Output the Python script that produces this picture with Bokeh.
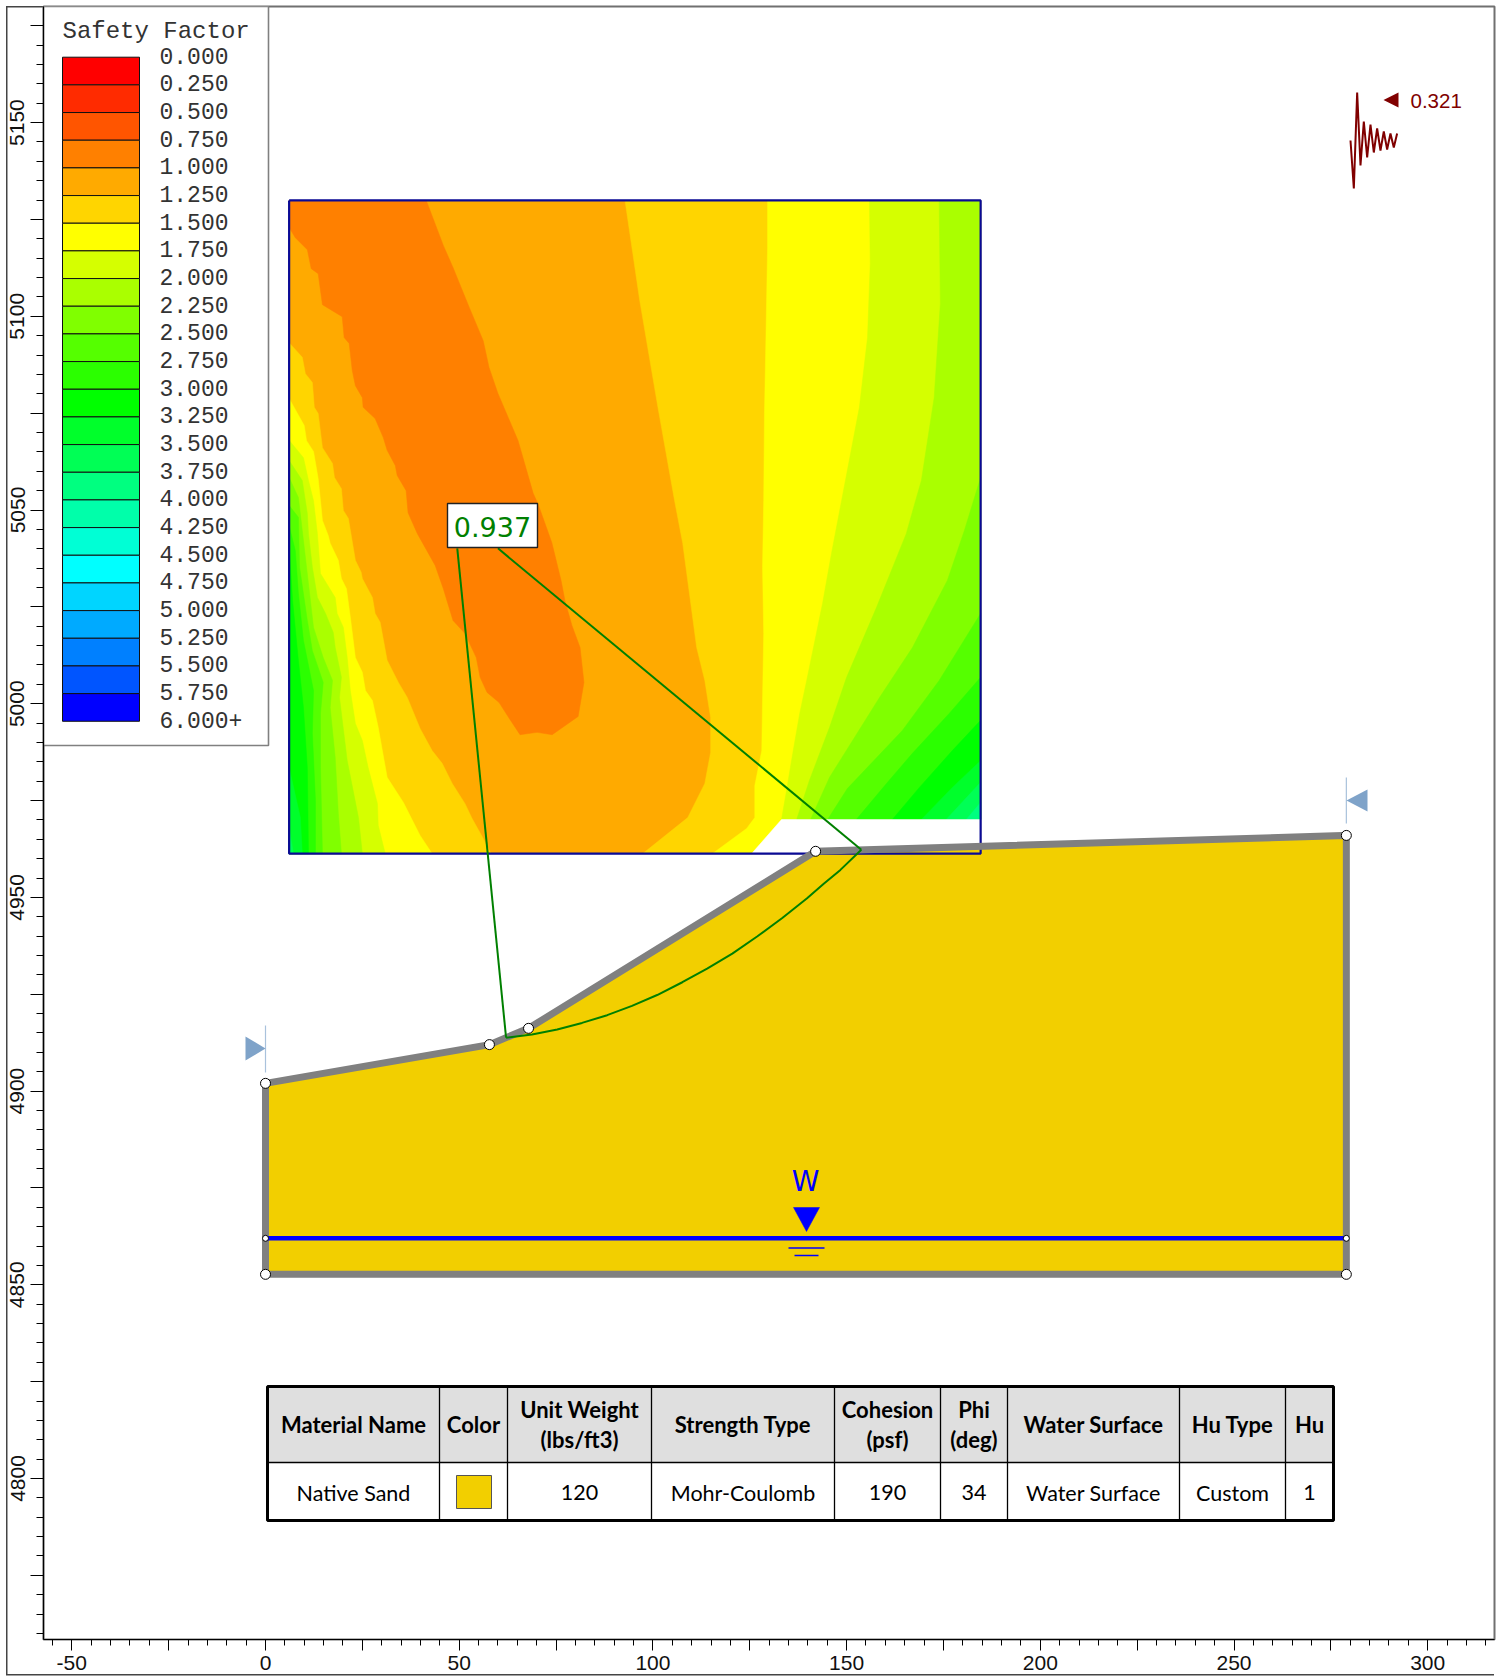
from bokeh.plotting import figure
from bokeh.models import FixedTicker, Range1d
from bokeh.core.properties import value
from bokeh.embed import file_html
from bokeh.resources import INLINE

# ---------- data ----------
x_major = [-50, -25, 0, 25, 50, 75, 100, 125, 150, 175, 200, 225, 250, 275, 300]
x_minor = list(range(-55, 316, 5))
y_major = [4775, 4800, 4825, 4850, 4875, 4900, 4925, 4950, 4975, 5000, 5025, 5050, 5075, 5100, 5125, 5150, 5175]
y_minor = list(range(4760, 5180, 5))

legend_title = "Safety Factor"
legend_labels = ["0.000", "0.250", "0.500", "0.750", "1.000", "1.250", "1.500", "1.750", "2.000", "2.250",
                 "2.500", "2.750", "3.000", "3.250", "3.500", "3.750", "4.000", "4.250", "4.500", "4.750",
                 "5.000", "5.250", "5.500", "5.750", "6.000+"]
legend_colors = ["#ff0000", "#ff2b00", "#ff5500", "#ff8000", "#ffaa00", "#ffd500", "#ffff00", "#d5ff00",
                 "#aaff00", "#80ff00", "#55ff00", "#2bff00", "#00ff00", "#00ff2b", "#00ff55", "#00ff80",
                 "#00ffaa", "#00ffd5", "#00ffff", "#00d5ff", "#00aaff", "#0080ff", "#0055ff", "#0000ff"]

# slope geometry (x ft, elevation ft)
slope_x = [0, 57.8, 67.9, 142.0, 279.0]
slope_y = [4902.0, 4912.0, 4916.2, 4961.9, 4966.0]
base_y = 4852.7
water_x = [0, 279]
water_y = [4862.0, 4862.0]

# critical slip surface
slip_x = [62.1, 68.8, 75.3, 81.7, 88.2, 94.6, 101.1, 107.6, 114.0, 120.5, 126.9, 133.4, 139.8, 144.1, 148.4, 153.8]
slip_y = [4913.8, 4914.6, 4915.9, 4917.6, 4919.6, 4922.0, 4924.8, 4928.1, 4931.6, 4935.5, 4939.9, 4944.7, 4949.8,
          4953.5, 4957.1, 4962.3]
center_x = [49.5, 60.0]
center_y = [5040.1, 5040.1]
fs_label = "0.937"

# search grid extents
grid_l, grid_r, grid_t, grid_b = 6.1, 184.6, 5129.9, 4961.3
notch_x = [125.5, 133.2, 184.6, 184.6]
notch_y = [4961.3, 4970.1, 4970.1, 4961.3]

# contour boundaries: (x, elevation)
band_orange = [(6.1, 5129.9), (41.5, 5129.9), (45.9, 5118.3), (48.4, 5112.6), (52.6, 5102.3), (56.2, 5093.7),
               (57.7, 5086.8), (60.0, 5080.1), (65.2, 5067.9), (69.1, 5054.3), (70.3, 5051.7), (73.9, 5041.6),
               (76.3, 5031.8), (77.3, 5026.6), (79.1, 5020.2), (81.2, 5014.5), (82.2, 5005.5), (80.7, 4996.7),
               (74.0, 4992.0), (70.1, 4992.6), (65.7, 4992.0), (62.4, 4997.0), (60.3, 5000.3), (57.2, 5002.9),
               (55.4, 5006.8), (54.4, 5011.9), (51.5, 5018.1), (48.4, 5021.5), (45.9, 5029.7), (43.8, 5035.7),
               (39.2, 5043.9), (36.8, 5049.3), (36.3, 5055.0), (34.0, 5058.9), (33.5, 5061.5), (31.4, 5065.4),
               (30.4, 5068.7), (28.3, 5073.6), (25.2, 5076.5), (25.0, 5079.0), (23.2, 5082.1), (22.4, 5086.0),
               (21.6, 5093.0), (20.3, 5094.5), (19.8, 5099.9), (14.7, 5103.0), (13.6, 5111.0), (11.8, 5112.3),
               (10.8, 5117.2), (7.7, 5120.3), (6.1, 5122.9)]

left_gold = [(6.1, 5093.2), (9.5, 5089.4), (10.3, 5085.2), (12.1, 5082.9), (12.6, 5076.5), (13.6, 5074.9),
             (14.7, 5066.1), (17.3, 5062.0), (17.8, 5058.4), (19.6, 5055.5), (20.1, 5049.9), (21.4, 5047.8),
             (23.2, 5037.0), (24.7, 5033.9), (25.0, 5032.3), (27.6, 5027.4), (28.3, 5023.3), (29.6, 5021.0),
             (31.4, 5011.2), (34.3, 5005.5), (36.6, 5001.6), (39.9, 4993.6), (43.0, 4987.9), (45.6, 4984.6),
             (48.2, 4979.4), (51.5, 4974.2), (53.3, 4970.4), (56.2, 4965.2), (58.2, 4961.3)]
left_yellow = [(6.1, 5078.8), (10.0, 5071.8), (10.6, 5067.9), (12.4, 5065.1), (13.6, 5058.1), (14.2, 5052.4),
               (14.7, 5047.3), (16.2, 5043.4), (16.7, 5041.4), (18.8, 5037.0), (19.6, 5032.3), (20.9, 5029.7),
               (21.9, 5022.3), (23.2, 5011.9), (25.0, 5008.1), (25.8, 5003.4), (27.6, 5000.8), (29.1, 4993.9),
               (31.4, 4981.0), (35.6, 4974.5), (39.9, 4966.0), (43.0, 4961.3)]
left_lime = [(6.1, 5068.0), (9.8, 5063.5), (11.1, 5057.6), (12.4, 5052.4), (13.4, 5043.9), (14.2, 5033.6),
             (18.0, 5027.4), (18.5, 5023.3), (20.1, 5019.7), (21.1, 5011.9), (21.9, 5003.4), (23.2, 4994.9),
             (25.0, 4990.5), (26.5, 4983.5), (28.9, 4974.2), (29.1, 4968.6), (30.9, 4961.3)]
left_chart = [(6.1, 5062.8), (9.5, 5057.6), (10.8, 5049.1), (11.1, 5043.9), (12.1, 5035.2), (13.4, 5027.4),
              (15.5, 5023.3), (17.5, 5018.4), (18.0, 5014.5), (19.6, 5006.8), (19.1, 5001.6), (21.1, 4985.3),
              (24.0, 4970.6), (25.0, 4961.3)]
left_g80 = [(6.1, 5058.4), (8.5, 5053.2), (9.5, 5044.7), (10.6, 5035.2), (11.6, 5026.6), (12.4, 5019.7),
            (14.9, 5011.9), (17.3, 5006.0), (16.7, 4999.0), (18.0, 4986.1), (18.8, 4971.7), (19.6, 4961.3)]
left_g55 = [(6.1, 5051.2), (8.5, 5048.1), (8.8, 5035.2), (10.8, 5021.5), (12.1, 5013.7), (14.9, 5005.5),
            (14.2, 4997.5), (14.2, 4983.5), (14.7, 4961.3)]
left_g2b = [(6.1, 5046.0), (7.7, 5039.5), (8.5, 5028.4), (9.8, 5016.3), (12.4, 5003.4), (12.1, 4992.3),
            (12.9, 4975.0), (12.9, 4961.3)]
left_g00 = [(6.1, 5040.8), (7.0, 5026.6), (8.5, 5011.1), (9.8, 4999.0), (10.8, 4983.5), (11.1, 4961.3)]
left_s2b = [(6.1, 4983.5), (9.0, 4970.6), (9.5, 4961.3)]
left_s55 = [(6.1, 4968.0), (7.2, 4961.3)]

right_gold = [(92.8, 5129.9), (96.6, 5104.1), (101.3, 5076.5), (105.6, 5052.4), (107.7, 5041.4), (111.3, 5014.5),
              (113.4, 5006.0), (114.9, 4996.4), (114.9, 4987.4), (113.4, 4979.4), (109.0, 4970.6), (97.4, 4961.3)]
right_yellow = [(129.6, 5129.9), (129.6, 5117.7), (129.1, 5090.4), (128.8, 5074.9), (128.6, 5052.4), (128.3, 5035.2),
                (128.6, 5018.1), (128.3, 5000.8), (128.1, 4987.9), (126.3, 4978.9), (126.3, 4970.6), (124.2, 4967.8),
                (115.4, 4961.3)]
right_lime = [(155.9, 5129.9), (156.1, 5113.6), (155.4, 5094.5), (153.3, 5076.5), (148.7, 5052.4), (146.1, 5038.8),
              (143.8, 5025.9), (139.7, 5006.0), (137.9, 4997.5), (136.1, 4987.2), (134.5, 4977.6), (133.2, 4970.1)]
right_chart = [(173.9, 5129.9), (174.2, 5103.3), (172.6, 5079.0), (169.3, 5057.6), (167.8, 5052.4), (165.4, 5043.9),
               (157.7, 5024.8), (150.0, 5006.8), (145.6, 4993.9), (140.4, 4980.2), (137.1, 4970.1)]
right_g80 = [(184.6, 5058.4), (180.4, 5044.7), (176.0, 5031.8), (167.0, 5014.5), (158.5, 5001.6), (145.6, 4981.0),
             (140.7, 4970.1)]
right_g55 = [(184.6, 5023.3), (173.9, 5006.0), (164.4, 4993.1), (150.2, 4978.1), (145.1, 4970.1)]
right_g2b = [(184.6, 5006.8), (176.5, 4997.5), (167.0, 4987.2), (160.3, 4979.4), (152.5, 4970.1)]
right_g00 = [(184.6, 4995.7), (177.3, 4987.9), (168.8, 4978.4), (161.8, 4970.1)]
right_s2b = [(184.6, 4985.3), (177.3, 4978.4), (169.3, 4970.1)]
right_s55 = [(184.6, 4979.7), (175.7, 4970.1)]
right_s80 = [(184.6, 4974.5), (180.9, 4970.1)]

# seismic load glyph
seismic_trace = [0.0, -48.0, 48.0, -25.0, 19.0, -17.0, 16.0, -12.0, 12.0, -10.0, 9.0, -9.0, 7.0, -7.0, 7.0]
seismic_label = "0.321"

# material table
table_headers = [["Material Name"], ["Color"], ["Unit Weight", "(lbs/ft3)"], ["Strength Type"], ["Cohesion", "(psf)"],
                 ["Phi", "(deg)"], ["Water Surface"], ["Hu Type"], ["Hu"]]
table_row = ["Native Sand", "", "120", "Mohr-Coulomb", "190", "34", "Water Surface", "Custom", "1"]
material_color = "#f2cf00"

# ---------- layout (page pixels to axis units) ----------
SX = SY = 3.874
def X(px):
    return (px - 265.0) / SX
def Y(py):
    return 4800.0 + (1478.0 - py) / SY

FL, FR, FT, FB = 43, 1494, 6, 1639   # plot frame on the page

p = figure(width=1506, height=1676, output_backend="svg", toolbar_location=None,
           x_range=Range1d(X(FL), X(FR)), y_range=Range1d(Y(FB), Y(FT)),
           min_border_left=FL, min_border_right=1506 - FR, min_border_top=FT, min_border_bottom=1676 - FB,
           frame_width=FR - FL, frame_height=FB - FT, margin=(0, 0, -20, 0),
           background_fill_color="white", border_fill_color=None,
           outline_line_color="#707070", outline_line_width=2)
p.grid.visible = False
# left, bottom and top-left pieces of the outer page frame
p.styles = {
    "background-image": "linear-gradient(#444,#444),linear-gradient(#444,#444),linear-gradient(#444,#444)",
    "background-size": "1.5px 1669px,1488px 1.5px,38px 1.5px",
    "background-position": "5.5px 6px,6px 1674px,6px 5.5px",
    "background-repeat": "no-repeat",
}

AX_FONT = "Liberation Sans"
xa, ya = p.xaxis[0], p.yaxis[0]
xa.ticker = FixedTicker(ticks=x_major, minor_ticks=x_minor)
ya.ticker = FixedTicker(ticks=y_major, minor_ticks=y_minor)
xa.major_label_overrides = {t: (str(t) if t % 50 == 0 else "") for t in x_major}
ya.major_label_overrides = {t: (str(t) if t % 50 == 0 else "") for t in y_major}
for a in (xa, ya):
    a.axis_line_color = "#000000"
    a.axis_line_width = 1.2
    a.major_tick_line_color = "#000000"
    a.minor_tick_line_color = "#000000"
    a.major_tick_in = 0
    a.minor_tick_in = 0
    a.major_label_text_font = AX_FONT
    a.major_label_text_font_size = "21px"
    a.major_label_text_color = "#111111"
xa.major_label_standoff = 5
ya.major_label_standoff = 6
xa.major_tick_out = 11
xa.minor_tick_out = 6
ya.major_tick_out = 13
ya.minor_tick_out = 7
ya.major_label_orientation = "vertical"

# contour field
def patch(pts, color):
    p.patch([q[0] for q in pts], [q[1] for q in pts], fill_color=color, line_color=color, line_width=0.5)

patch([(grid_l, grid_t), (grid_r, grid_t), (grid_r, grid_b), (grid_l, grid_b)], legend_colors[4])
patch(band_orange, legend_colors[3])
left_bands = [(left_gold, 5), (left_yellow, 6), (left_lime, 7), (left_chart, 8), (left_g80, 9), (left_g55, 10),
              (left_g2b, 11), (left_g00, 12), (left_s2b, 13), (left_s55, 14)]
for pts, c in left_bands:
    patch(pts + [(grid_l, grid_b)], legend_colors[c])
right_bands = [(right_gold, 5), (right_yellow, 6), (right_lime, 7), (right_chart, 8), (right_g80, 9), (right_g55, 10),
               (right_g2b, 11), (right_g00, 12), (right_s2b, 13), (right_s55, 14), (right_s80, 15)]
for pts, c in right_bands:
    closing = [(grid_r, pts[-1][1])]
    if pts[0][1] >= grid_t:
        closing.append((grid_r, grid_t))
    patch(pts + closing, legend_colors[c])
p.patch(notch_x, notch_y, fill_color="white", line_color="white", line_width=0.5)

# slope body
body_x = slope_x + [slope_x[-1], slope_x[0]]
body_y = slope_y + [base_y, base_y]
p.patch(body_x, body_y, fill_color=material_color, line_color=None)

# grid frame
p.line([grid_l, grid_r, grid_r, grid_l, grid_l], [grid_t, grid_t, grid_b, grid_b, grid_t],
       line_color="#0a0a96", line_width=2.2)

# slope outline
p.line(body_x + [body_x[0]], body_y + [body_y[0]], line_color="#808080", line_width=7, line_join="miter")

# water table
p.line(water_x, water_y, line_color="#0000ff", line_width=4.5)
p.scatter(water_x, water_y, size=6, marker="circle", fill_color="white", line_color="black", line_width=1)
wx = X(805)
p.text([wx], [Y(1181)], text=["W"], text_font=value("DejaVu Sans"), text_font_size="28px", text_color="#0000ff",
       text_align="center", text_baseline="middle")
p.patch([X(793), X(819), X(806)], [Y(1207), Y(1207), Y(1231)], fill_color="#0000ff", line_color="#0000ff", line_width=0.5)
p.line([X(788), X(824)], [Y(1247.5), Y(1247.5)], line_color="#0000ff", line_width=1.5)
p.line([X(794), X(818)], [Y(1255), Y(1255)], line_color="#0000ff", line_width=1.5)

# slip surface and centre lines
p.line(slip_x, slip_y, line_color="#008000", line_width=2)
p.line([center_x[0], slip_x[0]], [center_y[0], slip_y[0]], line_color="#008000", line_width=2)
p.line([center_x[1], slip_x[-1]], [center_y[1], slip_y[-1]], line_color="#008000", line_width=2)

# vertices
p.scatter(body_x, body_y, size=10, marker="circle", fill_color="white", line_color="black", line_width=1)

# FS label
p.quad(left=[X(447)], right=[X(537)], top=[Y(503)], bottom=[Y(547)], fill_color="white", line_color="#222222", line_width=1.4)
p.text([X(492)], [Y(526)], text=[fs_label], text_font=value("DejaVu Sans"), text_font_size="27px", text_color="#008000",
       text_align="center", text_baseline="middle")

# slope limits
p.line([0, 0], [Y(1025), Y(1072)], line_color="#a9c2dc", line_width=1.2)
p.patch([X(245), X(245), X(265)], [Y(1036), Y(1060), Y(1048)], fill_color="#7fa3c9", line_color=None)
p.line([slope_x[-1], slope_x[-1]], [Y(777), Y(823)], line_color="#a9c2dc", line_width=1.2)
p.patch([X(1367), X(1367), X(1346)], [Y(789), Y(811), Y(800)], fill_color="#7fa3c9", line_color=None)

# seismic
sx0, sdx, sy0 = 1350.0, 3.33, 140.0
p.line([X(sx0 + i * sdx) for i in range(len(seismic_trace))], [Y(sy0) + v / SY for v in seismic_trace],
       line_color="#800000", line_width=2)
p.patch([X(1383), X(1398), X(1398)], [Y(99.5), Y(92), Y(107)], fill_color="#800000", line_color=None)
p.text([X(1410)], [Y(100)], text=[seismic_label], text_font=value("Liberation Sans"), text_font_size="20.5px",
       text_color="#800000", text_align="left", text_baseline="middle")

# legend panel
p.quad(left=[X(FL)], right=[X(268)], top=[Y(FT)], bottom=[Y(745)], fill_color="white", line_color="#808080", line_width=1.6)
LX0, LX1, LY0, LDY = 62, 139, 56.7, 27.67
p.quad(left=[X(LX0)] * len(legend_colors), right=[X(LX1)] * len(legend_colors),
       top=[Y(LY0 + i * LDY) for i in range(len(legend_colors))],
       bottom=[Y(LY0 + (i + 1) * LDY) for i in range(len(legend_colors))],
       fill_color=legend_colors, line_color="#111111", line_width=1)
p.text([X(159)] * len(legend_labels), [Y(LY0 - 1.5 + i * LDY) for i in range(len(legend_labels))], text=legend_labels,
       text_font=value("Liberation Mono"), text_font_size="23px", text_color="#333333",
       text_align="left", text_baseline="middle")
p.text([X(62)], [Y(31)], text=[legend_title], text_font=value("Liberation Mono"), text_font_size="24px",
       text_color="#333333", text_align="left", text_baseline="middle")

# material table
TCOL = [267, 439, 507, 651, 834, 940, 1007, 1179, 1285, 1333]
TTOP, TMID, TBOT = 1386, 1462, 1520
p.quad(left=[X(TCOL[0])], right=[X(TCOL[-1])], top=[Y(TTOP)], bottom=[Y(TMID)], fill_color="#dfdfdf", line_color=None)
p.quad(left=[X(TCOL[0])], right=[X(TCOL[-1])], top=[Y(TMID)], bottom=[Y(TBOT)], fill_color="white", line_color=None)
for c in TCOL[1:-1]:
    p.line([X(c), X(c)], [Y(TTOP), Y(TBOT)], line_color="#000000", line_width=1.3)
p.line([X(TCOL[0]), X(TCOL[-1])], [Y(TMID), Y(TMID)], line_color="#000000", line_width=1.6)
p.quad(left=[X(TCOL[0])], right=[X(TCOL[-1])], top=[Y(TTOP)], bottom=[Y(TBOT)], fill_alpha=0, line_color="#000000", line_width=3)
for i, head in enumerate(table_headers):
    cx = X((TCOL[i] + TCOL[i + 1]) / 2)
    ys = [1424] if len(head) == 1 else [1409, 1439]
    p.text([cx] * len(head), [Y(v) for v in ys], text=head, text_font=value("Lato"), text_font_size="22px",
           text_font_style="bold", text_color="#000000", text_align="center", text_baseline="middle")
    if table_row[i]:
        p.text([cx], [Y(1492)], text=[table_row[i]], text_font=value("Lato"), text_font_size="21.5px",
               text_color="#000000", text_align="center", text_baseline="middle")
p.quad(left=[X(456)], right=[X(491)], top=[Y(1475)], bottom=[Y(1508)], fill_color=material_color, line_color="#555555", line_width=1)

open("out.html", "w").write(file_html(p, INLINE))
